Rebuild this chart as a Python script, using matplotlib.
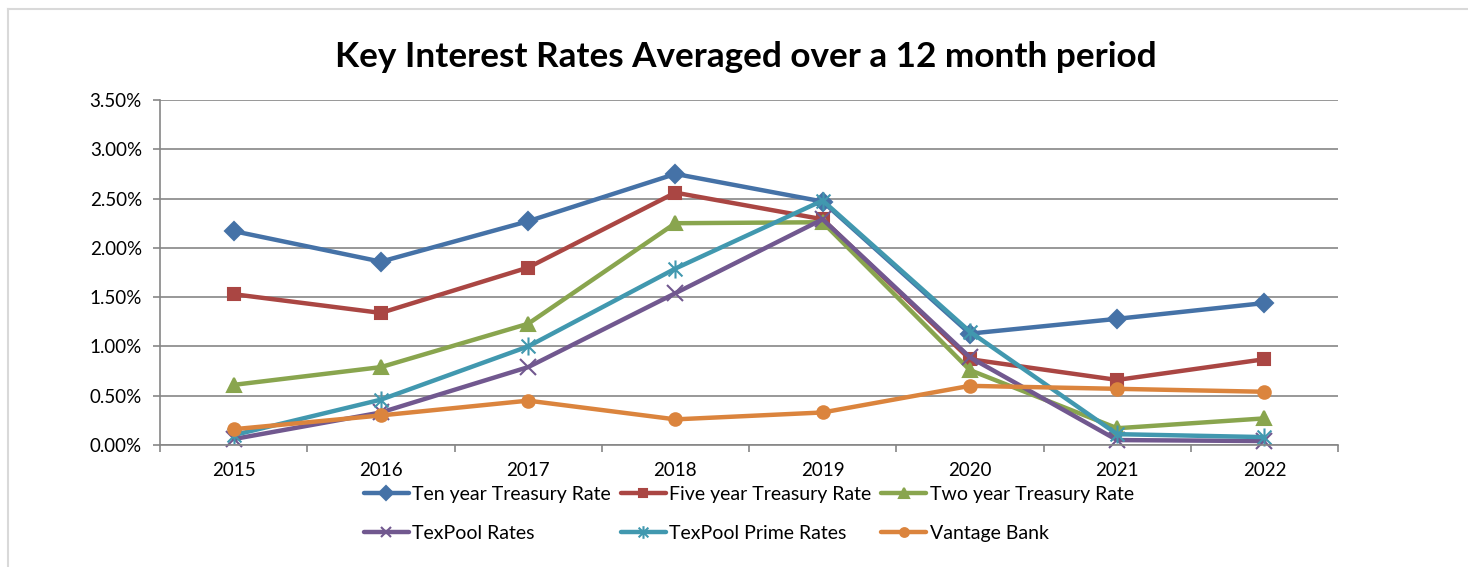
import matplotlib
matplotlib.use("Agg")
import matplotlib.pyplot as plt
from matplotlib.path import Path
from matplotlib.ticker import PercentFormatter, FixedLocator
from matplotlib.lines import Line2D

plt.rcParams['font.family'] = ['Lato', 'DejaVu Sans']

years = ['2015', '2016', '2017', '2018', '2019', '2020', '2021', '2022']

ten_year = [2.17, 1.86, 2.27, 2.75, 2.47, 1.13, 1.28, 1.44]
five_year = [1.53, 1.34, 1.80, 2.56, 2.29, 0.87, 0.66, 0.87]
two_year = [0.61, 0.79, 1.23, 2.25, 2.26, 0.76, 0.17, 0.27]
texpool = [0.06, 0.33, 0.79, 1.54, 2.29, 0.89, 0.05, 0.04]
texpool_prime = [0.10, 0.46, 1.00, 1.79, 2.48, 1.15, 0.11, 0.08]
vantage = [0.16, 0.30, 0.45, 0.26, 0.33, 0.60, 0.57, 0.54]

# asterisk marker like excel's star (x with a vertical bar)
star = Path([(-1, -1), (1, 1), (-1, 1), (1, -1), (0, -1.3), (0, 1.3)],
            [Path.MOVETO, Path.LINETO, Path.MOVETO, Path.LINETO, Path.MOVETO, Path.LINETO])

series = [
    ("Ten year Treasury Rate", ten_year, '#4572A7', 'D', 9.5),
    ("Five year Treasury Rate", five_year, '#AA4643', 's', 9),
    ("Two year Treasury Rate", two_year, '#89A54E', '^', 10),
    ("TexPool Rates", texpool, '#71588F', 'x', 11),
    ("TexPool Prime Rates", texpool_prime, '#4198AF', star, 13),
    ("Vantage Bank", vantage, '#DB843D', 'o', 9),
]

fig = plt.figure(figsize=(14.68, 5.67), dpi=100)
ax = fig.add_axes([160 / 1468, 1 - 445 / 567, (1338 - 160) / 1468, 345 / 567])

x = list(range(len(years)))
lines = []
for name, vals, col, mk, ms in series:
    ln, = ax.plot(x, vals, color=col, lw=3.2, marker=mk, markersize=ms,
                  markeredgewidth=1.5, markerfacecolor=col, markeredgecolor=col,
                  label=name, solid_joinstyle='round', solid_capstyle='round', clip_on=False)
    lines.append(ln)

ax.set_xlim(-0.5, len(years) - 0.5)
ax.set_ylim(0, 3.5)
ax.set_yticks([0, 0.5, 1.0, 1.5, 2.0, 2.5, 3.0, 3.5])
ax.yaxis.set_major_formatter(PercentFormatter(decimals=2))
ax.set_xticks(x)
ax.set_xticklabels(years)
ax.xaxis.set_minor_locator(FixedLocator([i - 0.5 for i in range(len(years) + 1)]))

ax.grid(axis='y', color='#868686', lw=1.2)
ax.set_axisbelow(True)
for s in ['top', 'right']:
    ax.spines[s].set_visible(False)
for s in ['left', 'bottom']:
    ax.spines[s].set_color('#868686')
    ax.spines[s].set_linewidth(1.2)

ax.tick_params(axis='y', length=5, width=1.2, color='#868686', pad=8, labelsize=13.5)
ax.tick_params(axis='x', which='major', length=0, pad=12, labelsize=13.5)
ax.tick_params(axis='x', which='minor', length=5, width=1.2, color='#868686')

fig.text(746 / 1468, 1 - 57 / 567, "Key Interest Rates Averaged over a 12 month period",
         ha='center', va='center', fontsize=25.3, fontweight='bold')

# legend fills row by row like excel
order = [0, 3, 1, 4, 2, 5]
ax.legend([lines[i] for i in order], [series[i][0] for i in order],
          loc='center', bbox_to_anchor=(0.5, -0.2), ncol=3, frameon=False,
          fontsize=14, handlelength=2.3, handletextpad=0.2, columnspacing=0.5,
          labelspacing=1.15, borderpad=0, markerscale=0.7)

# light frame lines at top and left of chart area
fig.add_artist(Line2D([8 / 1468, 1], [1 - 9 / 567] * 2, color='#d9d9d9', lw=1.5))
fig.add_artist(Line2D([8 / 1468] * 2, [0, 1 - 9 / 567], color='#d9d9d9', lw=1.5))

fig.savefig("out.png", dpi=100)
